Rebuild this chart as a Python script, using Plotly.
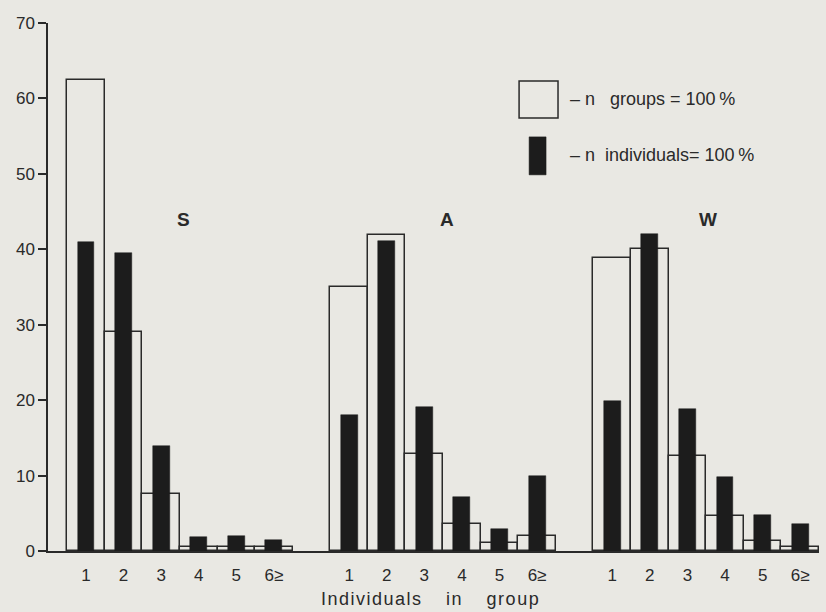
import plotly.graph_objects as go

# ---- data ----
seasons = ["S", "A", "W"]
categories = ["1", "2", "3", "4", "5", "6≥"]

groups_S = [62.5, 29.0, 7.5, 0.5, 0.5, 0.5]
groups_A = [35.0, 41.9, 12.9, 3.6, 1.0, 2.0]
groups_W = [38.8, 40.0, 12.6, 4.7, 1.3, 0.5]

indiv_S = [41.0, 39.5, 13.9, 1.9, 2.0, 1.4]
indiv_A = [18.0, 41.1, 19.1, 7.1, 2.9, 9.9]
indiv_W = [19.9, 42.0, 18.8, 9.8, 4.8, 3.6]

groups_vals = [groups_S, groups_A, groups_W]
indiv_vals = [indiv_S, indiv_A, indiv_W]

BG = "#e9e8e3"
INK = "#2a2a2a"
FONT = "Liberation Sans"

GAP = len(categories) + 1  # one empty slot between seasons

xpos, gvals, ivals, ticktext = [], [], [], []
for si, s in enumerate(seasons):
    for ci, c in enumerate(categories):
        xpos.append(si * GAP + ci)
        gvals.append(groups_vals[si][ci])
        ivals.append(indiv_vals[si][ci])
        ticktext.append(c)

fig = go.Figure()
fig.add_trace(go.Bar(
    x=xpos, y=gvals, width=1.0, name="n groups = 100%",
    marker=dict(color=BG, line=dict(color=INK, width=1.5)),
    showlegend=False,
))
fig.add_trace(go.Bar(
    x=xpos, y=ivals, width=0.45, name="n individuals = 100%",
    marker=dict(color="#1c1c1c", line=dict(color="#1c1c1c", width=0.5)),
    showlegend=False,
))

# season labels
season_x = [2.6, 9.6, 16.55]
for s, sx in zip(seasons, season_x):
    fig.add_annotation(x=sx, y=44, xref="x", yref="y", text="<b>" + s + "</b>", showarrow=False,
                       font=dict(family=FONT, size=19, color=INK))

# legend drawn manually
fig.add_shape(type="rect", xref="paper", yref="paper",
              x0=0.611, x1=0.6615, y0=0.820, y1=0.890,
              line=dict(color=INK, width=1.5), fillcolor=BG)
fig.add_shape(type="rect", xref="paper", yref="paper",
              x0=0.624, x1=0.646, y0=0.7124, y1=0.7843,
              line=dict(color="#1c1c1c", width=0.5), fillcolor="#1c1c1c")
fig.add_annotation(x=0.6744, y=0.856, xref="paper", yref="paper", xanchor="left",
                   yanchor="middle", showarrow=False,
                   text="–\u00a0n\u00a0\u00a0\u00a0groups\u00a0=\u00a0100\u2009%",
                   font=dict(family=FONT, size=18, color=INK))
fig.add_annotation(x=0.6744, y=0.750, xref="paper", yref="paper", xanchor="left",
                   yanchor="middle", showarrow=False,
                   text="–\u00a0n\u00a0\u00a0individuals=\u00a0100\u2009%",
                   font=dict(family=FONT, size=18, color=INK))

# x-axis title (wide letter spacing as in the reference)
def spaced(word):
    return "\u200a".join(word)

title_txt = spaced("Individuals") + "\u00a0" * 5 + spaced("in") + "\u00a0" * 5 + spaced("group")
fig.add_annotation(x=0.4955, y=-0.091, xref="paper", yref="paper", xanchor="center",
                   yanchor="middle", showarrow=False, text=title_txt,
                   font=dict(family=FONT, size=18, color=INK))

fig.update_layout(
    width=826, height=612,
    margin=dict(l=48, r=7, t=23, b=60.5, autoexpand=False),
    paper_bgcolor=BG, plot_bgcolor=BG,
    barmode="overlay", bargap=0,
    font=dict(family=FONT, color=INK),
)
fig.update_xaxes(
    range=[-1.01, 19.5], tickmode="array", tickvals=xpos, ticktext=ticktext,
    showline=True, linecolor=INK, linewidth=1.5, showgrid=False, zeroline=False,
    ticks="", ticklabelstandoff=8, automargin=False,
    tickfont=dict(family=FONT, size=17, color=INK),
)
fig.update_yaxes(
    range=[0, 70], tickmode="array", tickvals=[0, 10, 20, 30, 40, 50, 60, 70],
    showline=True, linecolor=INK, linewidth=1.5, showgrid=False, zeroline=False,
    ticks="outside", ticklen=8, tickwidth=1.5, tickcolor=INK, automargin=False,
    tickfont=dict(family=FONT, size=17, color=INK),
)

fig.write_html(
    "out.html",
    config={"displayModeBar": False},
    post_script="document.body.style.margin='0';document.body.style.background='" + BG + "';",
)
